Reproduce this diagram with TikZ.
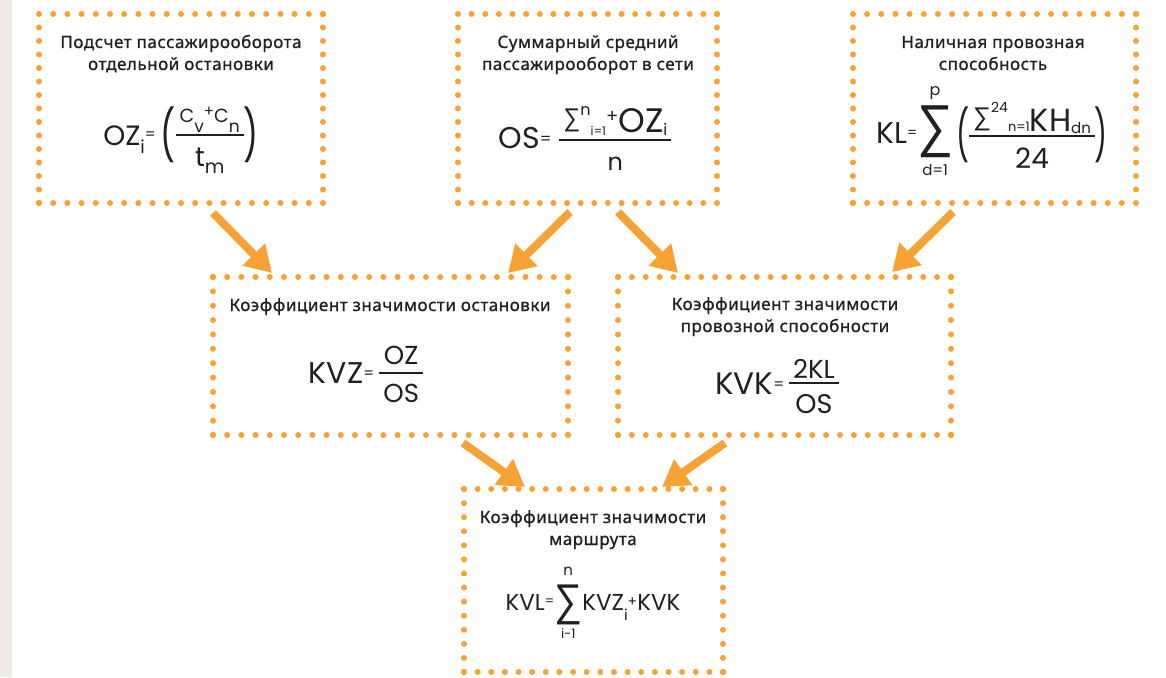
\documentclass[tikz,border=0pt]{standalone}
\usepackage{fontspec}
\usepackage{graphicx}
\setmainfont{Noto Sans}
\newfontfamily\tf{Noto Sans}[LetterSpace=3, FakeBold=0.9]
\newfontfamily\ff{Poppins}
\newfontfamily\sg{Liberation Sans}
\usetikzlibrary{arrows.meta}
\definecolor{org}{HTML}{F7A234}
\definecolor{txt}{HTML}{231F20}
\definecolor{strip}{HTML}{EEEBE5}

% formula helpers
\newcommand\T[2]{{\fontsize{#1}{#1}\selectfont\ff #2}}
\newcommand\Sb[3]{\raisebox{-#1pt}{\T{#2}{#3}}}
\newcommand\Sp[3]{\raisebox{#1pt}{\T{#2}{#3}}}
\newcommand\Eq[2]{\raisebox{\dimexpr#1pt-3pt*#2/10\relax}{\T{#2}{=}}}
\newcommand\Pl[2]{\raisebox{\dimexpr#1pt-33pt*#2/100\relax}{\T{#2}{+}}}
\newcommand\Gl[4]{\raisebox{#4pt}{\resizebox*{#2pt}{#3pt}{\raisebox{\depth}{#1}}}}
\newcommand\BSum[7]{%
  \makebox[0pt][l]{\makebox[#1pt]{\raisebox{#5pt}{#4}}}%
  \makebox[0pt][l]{\makebox[#1pt]{\raisebox{#7pt}{#6}}}%
  \Gl{\sg ∑}{#1}{#2}{#3}}
\newsavebox\numbox
\newsavebox\denbox
\newlength\frw
\newcommand\Fr[5]{%
  \sbox\numbox{#4}\sbox\denbox{#5}%
  \setlength\frw{\wd\numbox}%
  \ifdim\wd\denbox>\frw \setlength\frw{\wd\denbox}\fi
  \addtolength\frw{8pt}%
  \makebox[0pt][l]{\makebox[\frw]{\raisebox{\dimexpr#1pt+#2pt\relax}{\usebox\numbox}}}%
  \makebox[0pt][l]{\makebox[\frw]{\raisebox{\dimexpr#1pt-#3pt\relax}{\usebox\denbox}}}%
  \rule[\dimexpr#1pt-1pt\relax]{\frw}{2pt}}

\tikzset{
  dotline/.style={draw=org, line width=6pt, line cap=round},
  boxarea/.style={rectangle, inner sep=0pt, outer sep=0pt, draw=none},
  ttl/.style={anchor=base, align=center, inner sep=0pt, text=txt,
    font=\tf\fontsize{17}{22}\selectfont},
  fml/.style={anchor=base, inner sep=0pt, text=txt},
  arr/.style={draw=org, line width=8pt, -{Triangle[length=26pt,width=30pt]}}
}

\newcommand\dotbox[5]{%
  \node[boxarea,minimum width={#4-#2},minimum height={#5-#3}] (#1) at ({(#2+#4)/2},{(#3+#5)/2}) {};
  \pgfmathsetmacro\hsp{(#4-#2)/max(1,round((#4-#2)/14))}%
  \pgfmathsetmacro\vsp{(#5-#3)/max(1,round((#5-#3)/14))}%
  \draw[dotline,dash pattern=on 0pt off \hsp pt] (#1.north west) -- (#1.north east);
  \draw[dotline,dash pattern=on 0pt off \vsp pt] (#1.north east) -- (#1.south east);
  \draw[dotline,dash pattern=on 0pt off \hsp pt] (#1.south east) -- (#1.south west);
  \draw[dotline,dash pattern=on 0pt off \vsp pt] (#1.south west) -- (#1.north west);
}

\begin{document}
\begin{tikzpicture}[x=1pt,y=-1pt]
\useasboundingbox (0,0) rectangle (1166,677);
\fill[white] (0,0) rectangle (1166,677);
\fill[strip] (0,0) rectangle (12,677);

% boxes
\dotbox{b1}{39}{14}{323}{203}
\dotbox{b2}{458}{14}{717}{203}
\dotbox{b3}{853}{14}{1136}{203}
\dotbox{b4}{213}{277}{568}{435}
\dotbox{b5}{618}{277}{951}{435}
\dotbox{b6}{464}{489}{723}{672}

% titles (base = last line)
\node[ttl] (t1) at (181,70) {Подсчет пассажирооборота\\отдельной остановки};
\node[ttl] (t2) at (588,70) {Суммарный средний\\пассажирооборот в сети};
\node[ttl] (t3) at (993,70) {Наличная провозная\\способность};
\node[ttl] (t4) at (390,311) {Коэффициент значимости остановки};
\node[ttl] (t5) at (785,332) {Коэффициент значимости\\провозной способности};
\node[ttl] (t6) at (593,545) {Коэффициент значимости\\маршрута};

% formulas
\node[fml] (f1) at (181,145) {\T{28}{OZ}\Sb{8}{18}{i}\Eq{10}{15}\hspace{5pt}\Gl{\T{20}{(}}{15}{56}{-18}\Fr{10}{13}{31}{\T{19}{C}\Sb{10}{17}{v}\Pl{10}{15}\T{19}{C}\Sb{10}{17}{n}}{\T{27}{t}\Sb{7}{19}{m}}\Gl{\T{20}{)}}{15}{56}{-18}};

\node[fml] (f2) at (585,148) {\T{30}{OS}\Eq{8}{16}\hspace{8pt}\Fr{8}{8}{30}{\Gl{\sg ∑}{17}{23}{0}\Sp{17}{16}{n}\Sb{3}{12}{i=1}\Pl{15}{18}\T{34}{OZ}\Sb{3}{16}{i}}{\T{24}{n}}};

\node[fml] (f3) at (992,143) {\T{30}{KL}\Eq{10}{14}\BSum{36}{52}{-15}{\T{16}{p}}{48}{\T{15}{d=1}}{-32}\hspace{3pt}\Gl{\T{20}{(}}{13}{56}{-20}\Fr{7}{5}{32}{\Gl{\sg ∑}{18}{23}{0}\Sp{19}{14}{24}\Sb{0}{13}{n=1}\T{32}{KH}\Sb{2}{15}{dn}}{\T{28}{24}}\Gl{\T{20}{)}}{13}{56}{-20}};

\node[fml] (f4) at (366,383) {\T{30}{KVZ}\Eq{9}{15}\hspace{5pt}\Fr{10}{9}{29}{\T{26}{OZ}}{\T{26}{OS}}};

\node[fml] (f5) at (777,394) {\T{31}{KVK}\Eq{9}{15}\hspace{5pt}\Fr{11}{5}{30}{\T{26}{2KL}}{\T{27}{OS}}};

\node[fml] (f6) at (593,610) {\T{23}{KVL}\Eq{8}{13}\BSum{28}{40}{-15}{\T{15}{n}}{35}{\T{13}{i-1}}{-28}\T{23}{KVZ}\Sb{10}{15}{i}\Pl{8}{14}\T{23}{KVK}};

% arrows
\draw[arr] ([shift={(174,10)}]b1.south west) -- ([shift={(59,-4)}]b4.north west);
\draw[arr] ([shift={(112,9)}]b2.south west) -- ([shift={(295,-4)}]b4.north west);
\draw[arr] ([shift={(160,9)}]b2.south west) -- ([shift={(60,-4)}]b5.north west);
\draw[arr] ([shift={(100,9)}]b3.south west) -- ([shift={(274,-5)}]b5.north west);
\draw[arr] ([shift={(250,8)}]b4.south west) -- ([shift={(61,-2)}]b6.north west);
\draw[arr] ([shift={(107,8)}]b5.south west) -- ([shift={(198,-2)}]b6.north west);
\end{tikzpicture}
\end{document}
